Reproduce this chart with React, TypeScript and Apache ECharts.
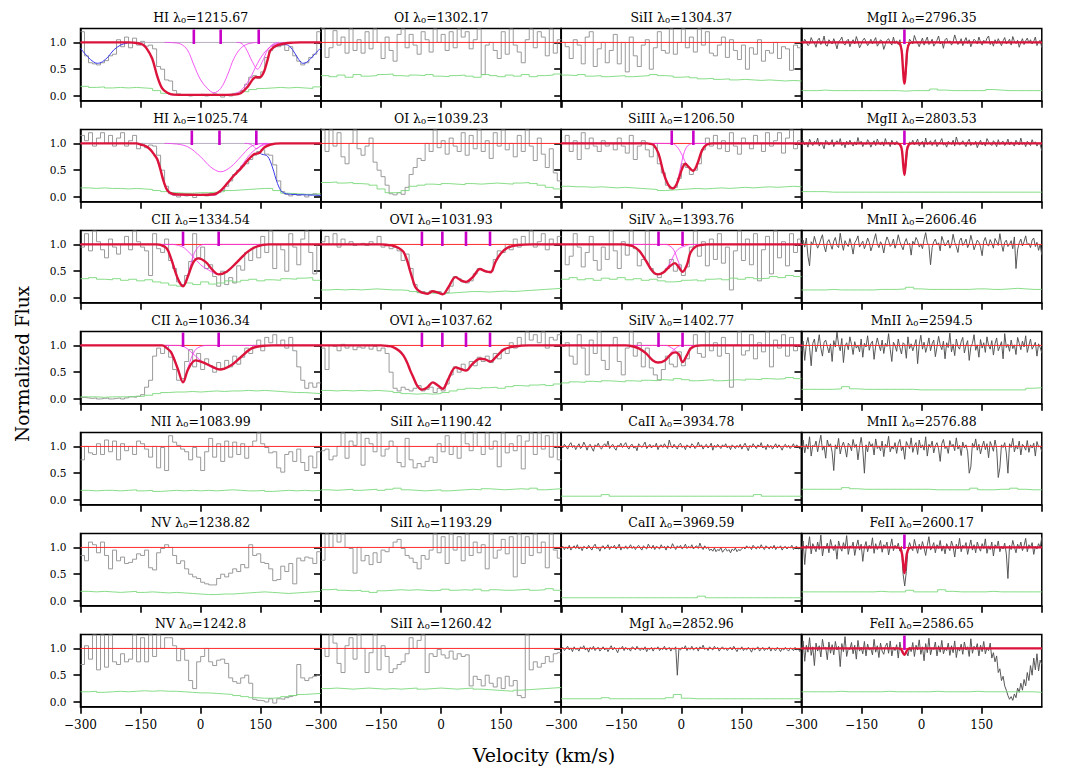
import React, { useEffect, useRef } from 'react';
import * as echarts from 'echarts';

// ---------------- axes ----------------
const VMIN = -300;
const VMAX = 300;
const X_INTERVAL = 150;
const YMIN = -0.09;
const YMAX = 1.26;
const Y_TICKS = [0, 0.5, 1.0];
const CONT = 1.0;
const MARK_LO = 0.97;
const MARK_HI = 1.24;

// ---------------- column 1 ----------------
const HI1215_FLUX = [
  1.2, 0.75, 0.62, 0.6, 0.58, 0.62, 0.66, 0.75, 0.78, 1.05,
  0.92, 1.1, 0.9, 1.08, 0.95, 1.02, 0.93, 0.95, 0.88, 0.55,
  0.5, 0.3, 0.28, 0.1, 0.04, 0.02, 0.03, 0.0, 0.02, 0.01,
  0.03, 0.0, 0.02, 0.04, 0.01, -0.02, 0.02, 0.0, 0.03, 0.05,
  0.1, 0.22, 0.35, 0.38, 0.33, 0.45, 0.72, 0.85, 0.95, 0.92,
  0.95, 0.85, 0.92, 0.75, 0.65, 0.58, 0.62, 0.72, 0.78, 1.2];
const HI1215_ERR = [0.18, 0.16, 0.17, 0.15, 0.16, 0.15, 0.16, 0.15, 0.14, 0.1, 0.05, 0.03, 0.02, 0.02, 0.02, 0.02, 0.03, 0.02, 0.03, 0.05, 0.08, 0.12, 0.14, 0.15, 0.16, 0.15, 0.16, 0.15, 0.14, 0.17];
const HI1215_MODEL = [[-300, 1], [-180, 1], [-160, 0.99], [-145, 0.96], [-135, 0.89], [-121, 0.7], [-108, 0.36], [-96, 0.14], [-83, 0.06], [-67, 0.025], [-40, 0.02], [0, 0.02], [40, 0.02], [83, 0.025], [100, 0.05], [117, 0.17], [129, 0.3], [137, 0.35], [148, 0.35], [158, 0.45], [167, 0.67], [175, 0.86], [192, 0.95], [217, 0.99], [250, 1], [300, 1]];
const HI1215_C1 = [[-90, 1], [-70, 0.995], [-50, 0.97], [-33, 0.86], [-17, 0.58], [0, 0.3], [17, 0.14], [33, 0.06], [50, 0.14], [67, 0.39], [83, 0.7], [100, 0.89], [117, 0.97], [140, 1]];
const HI1215_C2 = [[90, 1], [100, 0.99], [112, 0.9], [129, 0.64], [142, 0.5], [154, 0.64], [167, 0.86], [179, 0.96], [195, 1]];
const HI1215_C3 = [[-180, 1], [-160, 0.99], [-145, 0.96], [-135, 0.89], [-121, 0.7], [-108, 0.36], [-96, 0.14], [-83, 0.05], [-70, 0.02], [60, 0.02], [83, 0.04], [100, 0.1], [121, 0.3], [142, 0.61], [158, 0.8], [175, 0.92], [200, 0.99], [230, 1]];
const HI1215_BLUE_L = [[-300, 0.89], [-290, 0.8], [-275, 0.68], [-258, 0.61], [-245, 0.64], [-230, 0.74], [-217, 0.86], [-200, 0.95], [-183, 0.99], [-165, 1]];
const HI1215_BLUE_R = [[175, 0.86], [192, 0.94], [210, 0.96], [222, 0.93], [235, 0.8], [245, 0.68], [255, 0.61], [265, 0.63], [280, 0.74], [292, 0.84], [300, 0.89]];
const HI1215_MARKS = [-17, 50, 145];

const HI1025_FLUX = [
  1.15, 1.05, 1.2, 0.95, 1.1, 1.2, 1.0, 1.15, 0.95, 1.1,
  1.2, 0.95, 1.05, 1.15, 0.9, 1.0, 0.92, 0.97, 0.95, 0.78,
  0.5, 0.2, 0.06, 0.03, 0.0, 0.05, 0.02, 0.04, -0.01, 0.03,
  0.05, 0.02, 0.06, 0.04, 0.08, 0.12, 0.2, 0.3, 0.42, 0.5,
  0.58, 0.62, 0.7, 0.78, 0.85, 0.88, 0.8, 0.78, 0.6, 0.3,
  0.1, 0.05, 0.02, 0.06, 0.03, 0.05, 0.0, 0.04, 0.06, 0.03];
const HI1025_ERR = [0.17, 0.16, 0.17, 0.16, 0.16, 0.15, 0.16, 0.15, 0.14, 0.12, 0.1, 0.08, 0.07, 0.07, 0.08, 0.08, 0.09, 0.1, 0.12, 0.13, 0.14, 0.15, 0.16, 0.16, 0.12, 0.07, 0.06, 0.05, 0.05, 0.06];
const HI1025_MODEL = [[-300, 1], [-160, 1], [-150, 0.98], [-135, 0.94], [-125, 0.88], [-115, 0.78], [-108, 0.7], [-100, 0.5], [-92, 0.28], [-83, 0.12], [-71, 0.06], [-50, 0.045], [0, 0.04], [33, 0.05], [50, 0.12], [67, 0.26], [83, 0.4], [100, 0.53], [117, 0.68], [133, 0.8], [146, 0.82], [158, 0.92], [175, 0.98], [200, 1], [300, 1]];
const HI1025_C1 = [[-90, 1], [-70, 0.995], [-33, 0.94], [0, 0.75], [25, 0.56], [50, 0.47], [75, 0.56], [100, 0.75], [125, 0.94], [145, 0.99], [165, 1]];
const HI1025_C2 = [[110, 1], [120, 0.995], [130, 0.96], [140, 0.9], [150, 0.96], [160, 0.995], [170, 1]];
const HI1025_C3 = [[-170, 1], [-160, 0.995], [-135, 0.94], [-115, 0.78], [-100, 0.5], [-83, 0.12], [-70, 0.04], [30, 0.03], [50, 0.1], [67, 0.25], [100, 0.56], [125, 0.81], [150, 0.95], [175, 1]];
const HI1025_BLUE_R = [[133, 0.8], [146, 0.82], [152, 0.8], [167, 0.76], [179, 0.56], [192, 0.25], [204, 0.09], [225, 0.05], [260, 0.04], [300, 0.03]];
const HI1025_MARKS = [-22, 47, 139];

const CII1334_FLUX = [
  0.95, 1.2, 0.88, 1.25, 1.05, 0.9, 0.75, 1.1, 0.95, 0.82,
  1.0, 1.15, 0.9, 1.25, 1.05, 0.95, 0.88, 0.42, 1.2, 0.92,
  0.85, 1.1, 0.7, 0.55, 0.3, 0.25, 0.42, 0.68, 1.2, 0.75,
  0.95, 0.55, 0.62, 0.4, 0.22, 0.5, 0.25, 0.38, 0.28, 0.6,
  0.52, 0.85, 0.7, 0.95, 0.75, 1.15, 0.85, 1.25, 0.55, 1.0,
  0.9, 0.5, 1.2, 0.95, 0.62, 1.1, 1.25, 0.85, 0.45, 1.0];
const CII1334_ERR = [0.36, 0.38, 0.35, 0.34, 0.36, 0.33, 0.35, 0.32, 0.34, 0.3, 0.28, 0.24, 0.22, 0.28, 0.25, 0.3, 0.26, 0.28, 0.32, 0.3, 0.33, 0.35, 0.32, 0.34, 0.33, 0.36, 0.35, 0.37, 0.38, 0.33];
const CII1334_MODEL = [[-300, 1], [-110, 1], [-100, 0.99], [-85, 0.93], [-74, 0.74], [-57, 0.36], [-44, 0.22], [-31, 0.42], [-18, 0.67], [-6, 0.74], [13, 0.67], [30, 0.52], [45, 0.44], [65, 0.49], [91, 0.67], [117, 0.86], [143, 0.97], [170, 1], [300, 1]];
const CII1334_C1 = [[-300, 1], [-110, 1], [-100, 0.99], [-85, 0.93], [-74, 0.76], [-57, 0.38], [-44, 0.23], [-31, 0.45], [-18, 0.8], [-5, 0.96], [10, 1], [300, 1]];
const CII1334_C2 = [[-300, 1], [-70, 1], [-55, 0.98], [-40, 0.93], [-20, 0.78], [0, 0.62], [20, 0.52], [45, 0.44], [65, 0.49], [91, 0.67], [117, 0.86], [143, 0.97], [170, 1], [300, 1]];
const CII_MARKS = [-44, 45];

const CII1036_FLUX = [
  0.03, 0.02, 0.01, 0.02, 0.0, 0.01, 0.02, 0.0, 0.01, 0.02,
  0.0, 0.02, 0.04, 0.03, 0.05, 0.08, 0.22, 0.35, 0.8, 0.95,
  0.85, 1.0, 0.78, 0.55, 0.35, 0.38, 0.7, 0.92, 0.6, 0.85,
  0.55, 0.75, 0.62, 0.5, 0.68, 0.55, 0.72, 0.6, 0.8, 0.65,
  0.78, 0.95, 0.85, 1.0, 1.1, 0.9, 1.15, 1.05, 1.2, 1.0,
  1.1, 0.95, 1.15, 0.9, 0.6, 0.35, 0.2, 0.3, 0.22, 0.3];
const CII1036_ERR = [0.04, 0.04, 0.03, 0.04, 0.04, 0.04, 0.05, 0.05, 0.07, 0.1, 0.12, 0.13, 0.13, 0.14, 0.13, 0.14, 0.15, 0.14, 0.15, 0.15, 0.16, 0.15, 0.16, 0.15, 0.14, 0.13, 0.12, 0.12, 0.11, 0.1];
const CII1036_MODEL = [[-300, 1], [-96, 1], [-85, 0.95], [-74, 0.875], [-57, 0.56], [-44, 0.31], [-31, 0.56], [-13, 0.72], [4, 0.69], [30, 0.6], [48, 0.55], [74, 0.62], [100, 0.78], [126, 0.94], [152, 0.99], [180, 1], [300, 1]];
const CII1036_C1 = [[-300, 1], [-96, 1], [-74, 0.88], [-57, 0.58], [-44, 0.32], [-31, 0.6], [-15, 0.9], [0, 0.98], [15, 1], [300, 1]];
const CII1036_C2 = [[-300, 1], [-60, 1], [-40, 0.97], [-20, 0.85], [0, 0.72], [25, 0.6], [48, 0.55], [74, 0.62], [100, 0.78], [126, 0.94], [152, 0.99], [175, 1], [300, 1]];

const NII1083_FLUX = [
  0.75, 1.0, 0.88, 0.85, 1.05, 0.85, 1.12, 0.9, 1.1, 0.75,
  1.05, 0.92, 1.0, 0.85, 1.1, 1.05, 0.95, 0.8, 1.0, 0.6,
  0.98, 0.55, 1.2, 1.08, 1.02, 0.95, 0.9, 0.75, 0.98, 0.8,
  0.55, 0.9, 1.15, 0.8, 1.05, 0.72, 1.1, 0.8, 1.08, 0.85,
  1.05, 0.78, 1.0, 1.1, 1.25, 1.05, 0.98, 0.88, 0.9, 0.6,
  0.52, 0.85, 0.9, 0.72, 0.95, 0.7, 0.55, 0.82, 0.6, 0.9];
const NII1083_ERR = [0.18, 0.17, 0.18, 0.18, 0.17, 0.18, 0.19, 0.17, 0.18, 0.16, 0.17, 0.18, 0.17, 0.18, 0.17, 0.18, 0.17, 0.18, 0.19, 0.18, 0.17, 0.17, 0.18, 0.16, 0.17, 0.18, 0.17, 0.18, 0.17, 0.18];

const NV1238_FLUX = [
  0.85, 0.75, 1.1, 1.05, 0.9, 1.1, 0.85, 0.6, 0.95, 0.75,
  0.82, 0.7, 0.72, 0.78, 0.88, 0.85, 0.95, 0.62, 0.58, 0.9,
  0.98, 1.05, 1.0, 0.85, 0.7, 0.75, 0.6, 0.5, 0.45, 0.42,
  0.35, 0.32, 0.3, 0.3, 0.42, 0.5, 0.45, 0.52, 0.6, 0.55,
  0.68, 0.62, 1.05, 0.85, 0.88, 0.72, 0.7, 0.6, 0.38, 0.4,
  0.65, 0.55, 0.7, 0.32, 0.8, 0.75, 0.82, 0.8, 0.7, 0.92];
const NV1238_ERR = [0.18, 0.17, 0.18, 0.17, 0.16, 0.17, 0.18, 0.16, 0.17, 0.16, 0.15, 0.16, 0.15, 0.14, 0.13, 0.12, 0.12, 0.13, 0.13, 0.14, 0.15, 0.16, 0.17, 0.16, 0.15, 0.14, 0.15, 0.16, 0.17, 0.18];

const NV1242_FLUX = [
  0.7, 1.05, 0.8, 1.25, 0.6, 1.25, 0.65, 1.25, 0.75, 0.7,
  0.9, 0.75, 0.8, 1.25, 0.75, 1.2, 0.75, 1.25, 0.85, 1.25,
  1.0, 1.2, 1.2, 1.05, 0.77, 0.98, 0.78, 0.4, 0.25, 0.75,
  0.85, 1.0, 0.75, 0.68, 0.78, 0.8, 0.72, 0.45, 0.38, 0.35,
  0.45, 0.5, 0.35, 0.05, 0.03, 0.02, 0.0, 0.06, -0.02, 0.06,
  0.05, 0.08, 0.1, 0.12, 0.7, 0.45, 0.4, 0.45, 0.48, 0.5];
const NV1242_ERR = [0.19, 0.2, 0.18, 0.19, 0.2, 0.19, 0.2, 0.21, 0.2, 0.21, 0.2, 0.2, 0.19, 0.18, 0.17, 0.17, 0.16, 0.15, 0.14, 0.12, 0.1, 0.08, 0.07, 0.07, 0.08, 0.1, 0.12, 0.14, 0.15, 0.16];

// ---------------- column 2 ----------------
const OI1302_FLUX = [
  1.25, 0.72, 0.9, 1.22, 0.95, 1.1, 0.8, 1.25, 0.85, 1.05,
  0.8, 1.2, 0.88, 1.25, 1.0, 0.7, 1.1, 0.85, 0.65, 1.15,
  1.25, 0.9, 1.15, 0.95, 0.78, 1.2, 1.05, 0.82, 1.25, 1.0,
  1.15, 0.85, 1.2, 0.9, 1.25, 1.1, 1.2, 0.88, 1.05, 1.25,
  0.4, 0.95, 1.0, 0.85, 0.7, 1.2, 0.78, 1.25, 0.95, 0.82,
  0.62, 1.05, 1.25, 0.9, 1.2, 1.1, 0.75, 1.25, 0.8, 1.05];
const OI1302_ERR = [0.38, 0.36, 0.39, 0.35, 0.4, 0.37, 0.38, 0.4, 0.41, 0.38, 0.37, 0.39, 0.38, 0.4, 0.37, 0.36, 0.38, 0.39, 0.37, 0.35, 0.4, 0.38, 0.36, 0.39, 0.37, 0.4, 0.36, 0.38, 0.39, 0.41];

const OI1039_FLUX = [
  1.25, 0.85, 1.25, 0.95, 1.2, 0.75, 0.62, 1.0, 1.25, 0.9,
  0.78, 0.95, 1.1, 0.65, 0.5, 0.38, 0.22, 0.06, 0.04, 0.08,
  0.05, 0.18, 0.42, 0.55, 0.72, 0.68, 1.0, 0.85, 1.25, 0.92,
  1.05, 0.8, 1.1, 0.95, 0.85, 1.2, 0.78, 1.15, 0.9, 1.25,
  0.85, 1.05, 0.72, 1.2, 0.95, 1.25, 0.88, 1.0, 0.75, 1.15,
  0.85, 1.25, 0.95, 0.68, 1.1, 0.8, 0.55, 0.9, 0.45, 0.3];
const OI1039_ERR = [0.27, 0.28, 0.26, 0.27, 0.25, 0.24, 0.22, 0.15, 0.08, 0.08, 0.12, 0.2, 0.22, 0.24, 0.23, 0.25, 0.24, 0.23, 0.25, 0.24, 0.25, 0.26, 0.25, 0.24, 0.26, 0.27, 0.25, 0.22, 0.18, 0.15];

const OVI1031_FLUX = [
  1.05, 1.15, 1.0, 1.2, 0.95, 1.1, 1.0, 1.05, 0.98, 1.0,
  1.02, 0.98, 1.05, 1.0, 1.15, 0.95, 1.0, 0.92, 0.95, 0.88,
  0.7, 0.82, 0.55, 0.25, 0.1, 0.12, 0.08, 0.13, 0.1, 0.12,
  0.07, 0.1, 0.22, 0.4, 0.36, 0.3, 0.28, 0.32, 0.45, 0.55,
  0.52, 0.48, 0.5, 0.72, 0.88, 0.85, 1.0, 0.9, 1.1, 0.95,
  1.15, 1.0, 1.25, 0.95, 1.05, 1.2, 0.9, 1.1, 1.0, 1.15];
const OVI1031_ERR = [0.15, 0.16, 0.15, 0.16, 0.15, 0.16, 0.17, 0.16, 0.15, 0.15, 0.14, 0.12, 0.1, 0.09, 0.08, 0.09, 0.1, 0.11, 0.12, 0.12, 0.11, 0.12, 0.13, 0.12, 0.13, 0.14, 0.15, 0.16, 0.17, 0.18];
const OVI1031_MODEL = [[-300, 1], [-150, 1], [-135, 0.99], [-120, 0.975], [-105, 0.93], [-94, 0.86], [-85, 0.7], [-77, 0.49], [-70, 0.32], [-64, 0.2], [-55, 0.13], [-48, 0.1], [-34, 0.08], [-21, 0.125], [-8, 0.1], [4, 0.07], [18, 0.2], [36, 0.39], [49, 0.33], [62, 0.3], [79, 0.39], [97, 0.54], [110, 0.5], [123, 0.48], [136, 0.68], [149, 0.83], [166, 0.94], [192, 0.99], [227, 1], [300, 1]];
const OVI_MARKS = [-48, 3, 62, 122];

const OVI1037_FLUX = [
  0.95, 0.55, 1.0, 0.98, 0.9, 1.02, 0.95, 1.0, 0.92, 0.97,
  0.95, 1.0, 0.93, 0.98, 0.9, 0.95, 0.85, 0.5, 0.2, 0.15,
  0.22, 0.18, 0.15, 0.2, 0.25, 0.15, 0.18, 0.22, 0.12, 0.2,
  0.15, 0.28, 0.45, 0.6, 0.5, 0.65, 0.55, 0.7, 0.62, 0.78,
  0.7, 0.8, 0.68, 0.85, 0.75, 0.92, 0.85, 1.05, 0.95, 1.15,
  1.0, 1.25, 1.1, 1.2, 1.05, 1.25, 0.95, 1.15, 1.1, 1.2];
const OVI1037_ERR = [0.16, 0.15, 0.16, 0.15, 0.16, 0.15, 0.16, 0.15, 0.14, 0.12, 0.1, 0.09, 0.1, 0.09, 0.1, 0.12, 0.15, 0.18, 0.2, 0.19, 0.21, 0.22, 0.2, 0.23, 0.25, 0.24, 0.26, 0.27, 0.25, 0.28];
const OVI1037_MODEL = [[-300, 1], [-150, 1], [-135, 0.99], [-120, 0.97], [-105, 0.9], [-94, 0.81], [-85, 0.68], [-77, 0.53], [-68, 0.38], [-60, 0.25], [-48, 0.175], [-34, 0.22], [-21, 0.31], [-8, 0.25], [4, 0.19], [18, 0.375], [36, 0.59], [49, 0.56], [62, 0.53], [79, 0.66], [97, 0.75], [110, 0.74], [123, 0.7], [140, 0.81], [158, 0.93], [184, 0.98], [218, 1], [300, 1]];

const SIII1190_FLUX = [
  0.92, 0.95, 0.75, 0.82, 1.0, 1.25, 0.78, 1.1, 1.02, 1.25,
  0.65, 1.15, 1.05, 0.9, 1.25, 0.82, 0.95, 1.1, 1.0, 0.7,
  0.62, 1.15, 0.75, 0.6, 0.68, 0.62, 0.72, 0.8, 0.7, 1.05,
  0.9, 1.2, 0.85, 1.0, 0.78, 1.25, 1.05, 0.92, 1.25, 1.0,
  0.85, 1.25, 0.95, 1.1, 0.62, 1.25, 0.88, 1.05, 0.92, 1.2,
  0.58, 1.1, 1.25, 0.85, 1.25, 0.95, 1.2, 0.8, 1.25, 0.75];
const SIII1190_ERR = [0.19, 0.18, 0.19, 0.2, 0.18, 0.19, 0.2, 0.18, 0.2, 0.22, 0.19, 0.18, 0.17, 0.18, 0.19, 0.17, 0.18, 0.19, 0.2, 0.19, 0.21, 0.2, 0.19, 0.2, 0.21, 0.2, 0.22, 0.19, 0.2, 0.21];

const SIII1193_FLUX = [
  0.76, 1.25, 1.0, 1.25, 1.1, 1.25, 1.0, 0.98, 0.52, 1.0,
  0.75, 0.85, 0.68, 0.9, 0.72, 0.95, 0.92, 1.0, 1.1, 1.15,
  0.98, 0.85, 0.8, 0.72, 0.6, 0.85, 0.78, 0.95, 1.25, 0.9,
  1.2, 0.7, 1.25, 0.95, 1.2, 0.75, 1.25, 0.85, 1.1, 0.9,
  1.05, 0.6, 1.25, 0.8, 0.95, 1.15, 0.88, 1.2, 0.45, 1.25,
  0.7, 1.2, 0.85, 1.25, 0.9, 1.1, 0.62, 1.25, 0.95, 0.8];
const SIII1193_ERR = [0.21, 0.22, 0.2, 0.19, 0.2, 0.18, 0.16, 0.19, 0.2, 0.21, 0.2, 0.21, 0.2, 0.19, 0.2, 0.22, 0.2, 0.21, 0.2, 0.22, 0.19, 0.21, 0.2, 0.2, 0.21, 0.22, 0.2, 0.21, 0.23, 0.2];

const SIII1260_FLUX = [
  1.0, 0.85, 1.25, 1.1, 0.72, 0.55, 1.05, 1.2, 0.8, 1.25,
  1.0, 0.55, 0.92, 1.25, 0.6, 1.05, 0.85, 0.55, 0.62, 0.7,
  0.75, 0.9, 1.2, 1.0, 1.15, 1.25, 0.55, 0.9, 0.85, 0.98,
  0.88, 0.82, 0.95, 0.8, 0.9, 0.85, 0.88, 0.3, 0.48, 0.42,
  0.3, 0.5, 0.35, 0.28, 0.45, 0.25, 0.48, 0.3, 0.4, 0.12,
  0.08, 1.25, 0.6, 0.75, 0.65, 0.72, 0.85, 0.75, 0.9, 0.92];
const SIII1260_ERR = [0.25, 0.26, 0.25, 0.24, 0.25, 0.26, 0.25, 0.24, 0.25, 0.24, 0.25, 0.26, 0.24, 0.25, 0.26, 0.25, 0.24, 0.25, 0.26, 0.24, 0.23, 0.22, 0.21, 0.2, 0.22, 0.23, 0.24, 0.25, 0.26, 0.27];

// ---------------- column 3 ----------------
const SIII1304_FLUX = [
  1.0, 0.92, 0.7, 1.05, 0.95, 0.6, 1.1, 1.2, 0.55, 0.88,
  1.0, 0.62, 0.85, 1.15, 0.6, 1.0, 0.45, 1.1, 0.75, 0.55,
  0.95, 1.05, 0.5, 0.9, 1.2, 0.85, 0.8, 1.25, 0.78, 1.0,
  1.25, 0.9, 1.1, 0.82, 1.25, 0.95, 1.2, 0.8, 0.75, 0.95,
  1.1, 0.72, 1.05, 0.85, 0.68, 0.95, 0.5, 0.9, 0.78, 1.05,
  0.65, 0.85, 0.8, 1.0, 0.7, 0.92, 0.88, 0.48, 0.95, 0.9];
const SIII1304_ERR = [0.39, 0.38, 0.4, 0.37, 0.38, 0.36, 0.37, 0.38, 0.36, 0.37, 0.38, 0.4, 0.38, 0.37, 0.35, 0.36, 0.34, 0.32, 0.33, 0.31, 0.32, 0.3, 0.31, 0.3, 0.29, 0.3, 0.29, 0.28, 0.29, 0.28];

const SIIII1206_FLUX = [
  1.0, 1.15, 0.85, 1.05, 0.7, 1.2, 0.9, 1.1, 0.95, 0.85,
  1.05, 0.95, 1.0, 0.88, 1.1, 0.95, 0.82, 1.15, 0.7, 0.95,
  1.05, 0.88, 0.75, 1.0, 0.62, 0.45, 0.22, 0.15, 0.18, 0.35,
  0.62, 0.55, 0.42, 0.5, 0.62, 0.88, 1.1, 0.95, 1.15, 0.9,
  1.05, 0.85, 1.2, 0.95, 0.8, 1.1, 1.0, 0.9, 1.15, 1.0,
  0.85, 1.2, 0.95, 1.05, 1.2, 0.82, 1.1, 1.25, 0.9, 1.05];
const SIIII1206_ERR = [0.2, 0.19, 0.19, 0.18, 0.19, 0.18, 0.17, 0.18, 0.17, 0.16, 0.15, 0.14, 0.12, 0.13, 0.14, 0.15, 0.16, 0.15, 0.16, 0.17, 0.16, 0.17, 0.18, 0.17, 0.18, 0.19, 0.18, 0.19, 0.2, 0.19];
const SIIII1206_MODEL = [[-300, 1], [-85, 1], [-77, 0.99], [-69, 0.97], [-57, 0.81], [-44, 0.44], [-32, 0.22], [-21, 0.16], [-11, 0.25], [2, 0.53], [10, 0.62], [18, 0.56], [29, 0.49], [39, 0.6], [52, 0.875], [64, 0.98], [81, 1], [300, 1]];
const SIIII1206_C1 = [[-300, 1], [-85, 1], [-77, 0.99], [-69, 0.97], [-57, 0.81], [-44, 0.44], [-32, 0.22], [-21, 0.16], [-11, 0.27], [-3, 0.52], [5, 0.78], [12, 0.92], [20, 0.98], [30, 1], [300, 1]];
const SIIII1206_C2 = [[-300, 1], [-25, 1], [-11, 0.94], [2, 0.78], [14, 0.6], [29, 0.49], [39, 0.6], [52, 0.875], [64, 0.98], [81, 1], [300, 1]];
const SIIII_MARKS = [-24, 30];

const SIIV1393_FLUX = [
  1.0, 0.62, 0.78, 1.2, 0.95, 0.58, 0.85, 1.15, 0.7, 0.52,
  0.95, 0.72, 1.25, 0.88, 0.55, 1.05, 0.8, 1.25, 0.92, 0.6,
  0.72, 1.25, 0.55, 0.45, 0.38, 0.48, 0.55, 0.72, 0.5, 0.62,
  0.42, 0.58, 0.95, 1.25, 0.78, 1.05, 0.6, 1.1, 0.72, 1.2,
  0.65, 0.95, 0.15, 0.88, 1.25, 0.7, 1.1, 0.62, 1.2, 0.32,
  0.9, 1.15, 0.45, 1.25, 0.75, 1.05, 0.6, 1.2, 0.85, 1.1];
const SIIV1393_ERR = [0.35, 0.38, 0.34, 0.36, 0.33, 0.37, 0.35, 0.38, 0.34, 0.36, 0.33, 0.35, 0.32, 0.3, 0.31, 0.33, 0.34, 0.32, 0.35, 0.36, 0.34, 0.37, 0.35, 0.38, 0.36, 0.37, 0.4, 0.38, 0.42, 0.4];
const SIIV1393_MODEL = [[-300, 1], [-145, 1], [-139, 0.995], [-122, 0.97], [-105, 0.88], [-88, 0.69], [-71, 0.49], [-58, 0.44], [-46, 0.47], [-29, 0.59], [-16, 0.65], [-8, 0.59], [3, 0.49], [14, 0.62], [23, 0.85], [36, 0.96], [49, 0.99], [65, 1], [300, 1]];
const SIIV1393_C1 = [[-300, 1], [-145, 1], [-139, 0.995], [-122, 0.97], [-105, 0.88], [-88, 0.69], [-71, 0.49], [-58, 0.44], [-46, 0.48], [-29, 0.64], [-20, 0.78], [-8, 0.91], [9, 0.97], [25, 1], [300, 1]];
const SIIV1393_C2 = [[-300, 1], [-40, 1], [-33, 0.99], [-20, 0.91], [-8, 0.69], [3, 0.5], [14, 0.62], [23, 0.85], [36, 0.96], [49, 0.99], [65, 1], [300, 1]];
const SIIV_MARKS = [-57, 3];

const SIIV1402_FLUX = [
  0.98, 1.05, 0.8, 0.65, 1.2, 0.95, 0.45, 1.1, 0.85, 1.25,
  0.72, 0.55, 1.0, 1.15, 0.7, 0.45, 0.95, 1.25, 0.8, 1.05,
  0.6, 0.95, 0.58, 0.45, 0.35, 0.55, 0.8, 0.65, 0.6, 0.88,
  0.62, 0.75, 0.95, 1.2, 0.85, 0.78, 1.25, 0.9, 1.05, 0.8,
  1.15, 0.85, 0.22, 1.0, 1.25, 0.82, 0.9, 1.2, 0.75, 1.05,
  0.88, 1.25, 0.6, 1.1, 0.95, 1.2, 0.8, 1.15, 0.9, 1.0];
const SIIV1402_ERR = [0.3, 0.32, 0.31, 0.33, 0.32, 0.34, 0.33, 0.32, 0.34, 0.33, 0.35, 0.34, 0.36, 0.35, 0.38, 0.36, 0.34, 0.35, 0.36, 0.34, 0.35, 0.36, 0.35, 0.37, 0.36, 0.38, 0.37, 0.38, 0.4, 0.38];
const SIIV1402_MODEL = [[-300, 1], [-140, 1], [-120, 0.98], [-105, 0.94], [-88, 0.85], [-71, 0.72], [-58, 0.68], [-41, 0.72], [-24, 0.85], [-14, 0.87], [-6, 0.83], [3, 0.69], [14, 0.82], [23, 0.94], [36, 0.99], [50, 1], [300, 1]];
const SIIV1402_C1 = [[-300, 1], [-140, 1], [-120, 0.98], [-105, 0.94], [-88, 0.85], [-71, 0.72], [-58, 0.68], [-41, 0.72], [-24, 0.88], [-12, 0.96], [0, 1], [300, 1]];
const SIIV1402_C2 = [[-300, 1], [-40, 1], [-33, 0.99], [-16, 0.91], [-6, 0.82], [3, 0.69], [14, 0.82], [23, 0.94], [36, 0.99], [50, 1], [300, 1]];

const CAII3934_FLUX = [
  1.01, 0.97, 1.04, 1.0, 0.95, 1.03, 1.07, 0.98, 1.02, 0.94,
  1.0, 1.05, 0.96, 0.99, 1.08, 1.02, 0.93, 1.01, 1.04, 0.97,
  0.91, 1.03, 1.0, 1.06, 0.98, 0.95, 1.02, 1.05, 0.99, 1.1,
  0.96, 1.01, 1.04, 0.97, 0.93, 1.02, 1.0, 1.06, 0.98, 1.03,
  1.07, 0.99, 0.95, 1.02, 1.04, 0.97, 1.0, 0.92, 1.05, 1.01,
  0.98, 1.03, 1.08, 0.96, 1.0, 1.04, 0.97, 1.02, 0.99, 1.06,
  0.94, 1.01, 1.03, 0.98, 1.05, 1.0, 0.96, 1.12, 1.02, 0.97,
  1.04, 0.99, 0.95, 1.03, 1.06, 0.98, 1.01, 0.94, 1.03, 1.0,
  0.97, 1.05, 1.02, 0.96, 1.0, 1.08, 0.99, 1.03, 0.95, 1.01,
  1.04, 0.97, 1.0, 1.06, 0.93, 1.02, 0.98, 1.04, 1.0, 0.96,
  1.03, 0.99, 1.05, 0.97, 1.01, 0.94, 1.03, 1.0, 0.96, 1.02,
  0.98, 1.04, 0.95, 1.01, 1.06, 0.99, 0.92, 1.02, 0.98, 1.05,
  1.0, 0.96, 1.03, 0.99, 1.07, 0.97, 1.01, 0.94, 1.04, 0.98,
  1.02, 0.95, 1.0, 1.05, 0.97, 1.03, 0.99, 0.93, 1.01, 1.04,
  0.98, 1.02, 0.96, 1.0, 1.05, 0.97, 1.03, 0.99, 0.95, 1.01];
const CAII3934_ERR = [0.07, 0.07, 0.07, 0.07, 0.07, 0.1, 0.07, 0.07, 0.07, 0.07, 0.07, 0.07, 0.07, 0.07, 0.07, 0.07, 0.07, 0.07, 0.07, 0.07, 0.07, 0.07, 0.07, 0.07, 0.1, 0.07, 0.07, 0.07, 0.07, 0.07];

const CAII3969_FLUX = [
  0.98, 1.02, 0.96, 1.01, 0.97, 1.04, 0.95, 1.0, 1.03, 0.98,
  1.05, 0.97, 1.01, 0.94, 1.02, 1.0, 0.97, 1.04, 0.99, 0.95,
  1.02, 1.06, 0.98, 1.0, 0.93, 1.01, 1.03, 0.97, 1.0, 1.05,
  0.96, 1.02, 0.99, 1.04, 0.97, 1.0, 1.06, 0.95, 1.01, 0.98,
  1.03, 0.97, 1.0, 1.05, 0.98, 1.02, 0.96, 1.01, 1.04, 0.99,
  0.95, 1.03, 1.0, 0.97, 1.06, 1.01, 0.98, 1.04, 0.96, 1.02,
  1.0, 0.97, 1.05, 0.99, 1.02, 0.95, 1.03, 1.0, 0.98, 1.07,
  1.01, 0.96, 1.03, 0.99, 1.04, 0.97, 1.0, 1.06, 0.98, 1.02,
  0.99, 1.05, 0.97, 1.01, 1.03, 0.98, 1.08, 1.0, 0.96, 1.03,
  0.98, 1.01, 0.94, 0.97, 0.93, 0.99, 0.92, 0.96, 0.94, 1.0,
  0.91, 0.95, 0.98, 0.93, 0.96, 0.9, 0.97, 0.94, 0.99, 0.92,
  0.96, 0.94, 0.98, 1.0, 0.97, 1.03, 0.99, 1.01, 0.96, 1.04,
  1.0, 0.97, 1.02, 0.98, 1.05, 0.99, 0.96, 1.03, 1.0, 0.97,
  1.02, 0.98, 1.04, 0.96, 1.01, 0.99, 1.03, 0.95, 1.0, 1.02,
  0.97, 1.01, 0.99, 1.04, 0.96, 1.0, 1.02, 0.97, 0.99, 0.96];
const CAII3969_ERR = [0.06, 0.06, 0.06, 0.06, 0.06, 0.06, 0.06, 0.06, 0.06, 0.06, 0.06, 0.06, 0.06, 0.06, 0.06, 0.06, 0.06, 0.09, 0.06, 0.06, 0.06, 0.06, 0.06, 0.06, 0.06, 0.06, 0.06, 0.06, 0.06, 0.06];

const MGI2852_FLUX = [
  0.99, 1.02, 0.96, 1.0, 1.04, 0.97, 1.01, 0.94, 1.03, 0.98,
  1.0, 0.95, 1.03, 0.99, 1.05, 0.97, 1.01, 0.93, 1.02, 0.98,
  1.04, 0.96, 1.0, 1.02, 0.95, 0.99, 1.03, 0.97, 1.01, 0.94,
  1.0, 1.05, 0.97, 1.02, 0.98, 0.92, 1.01, 0.99, 1.04, 0.96,
  1.02, 0.98, 1.0, 0.95, 1.03, 1.01, 0.97, 1.04, 0.99, 0.96,
  1.01, 0.97, 1.03, 0.94, 1.0, 0.98, 1.02, 0.95, 1.01, 0.99,
  1.03, 0.96, 1.0, 0.98, 1.04, 0.97, 0.99, 1.02, 0.95, 1.01,
  0.98, 1.03, 0.5, 1.0, 0.97, 1.02, 0.99, 1.05, 0.96, 1.01,
  0.98, 1.04, 0.97, 1.0, 1.02, 0.95, 1.03, 0.99, 1.06, 0.98,
  1.01, 0.96, 1.03, 1.0, 0.97, 1.04, 0.99, 1.02, 0.95, 1.0,
  1.03, 0.98, 1.01, 0.96, 1.0, 1.02, 0.97, 1.04, 0.99, 0.94,
  1.01, 0.98, 1.03, 0.96, 1.0, 0.97, 1.02, 0.99, 0.93, 1.01,
  0.97, 1.0, 1.03, 0.95, 0.99, 1.02, 0.96, 1.0, 0.98, 1.03,
  0.95, 1.01, 0.98, 0.96, 1.02, 0.99, 0.94, 1.0, 0.97, 1.02,
  0.98, 0.95, 1.01, 0.99, 0.96, 1.02, 0.97, 0.99, 0.94, 1.0];
const MGI2852_ERR = [0.06, 0.06, 0.06, 0.06, 0.06, 0.08, 0.06, 0.06, 0.06, 0.06, 0.06, 0.06, 0.06, 0.08, 0.14, 0.07, 0.06, 0.06, 0.06, 0.06, 0.06, 0.06, 0.06, 0.06, 0.06, 0.06, 0.06, 0.06, 0.06, 0.06];

// ---------------- column 4 ----------------
const MGII2796_FLUX = [
  1.03, 0.98, 1.06, 1.01, 0.94, 0.97, 1.09, 1.02, 0.99, 0.91,
  1.04, 1.08, 0.96, 1.0, 1.12, 0.95, 0.93, 1.05, 1.01, 0.97,
  1.07, 0.99, 0.88, 1.02, 1.04, 1.1, 0.98, 0.95, 1.03, 1.06,
  0.92, 1.0, 1.05, 0.97, 1.11, 1.02, 0.9, 0.96, 1.04, 1.08,
  1.01, 0.94, 0.99, 1.06, 0.97, 1.03, 1.09, 0.93, 0.98, 1.05,
  1.02, 0.87, 0.96, 1.04, 1.07, 1.0, 0.95, 1.1, 0.98, 1.03,
  0.96, 1.05, 0.9, 0.45, 0.24, 0.5, 0.93, 1.06, 1.02, 0.97,
  1.13, 1.04, 0.99, 0.92, 1.01, 1.08, 0.95, 1.03, 1.1, 0.96,
  1.0, 1.06, 0.93, 0.98, 1.04, 1.12, 0.97, 1.02, 0.89, 1.05,
  1.08, 0.99, 1.03, 0.95, 1.01, 1.14, 1.04, 0.96, 1.0, 1.07,
  0.94, 1.02, 1.09, 0.98, 1.05, 0.92, 1.0, 1.06, 1.03, 0.97,
  1.1, 1.01, 0.95, 1.04, 0.99, 1.08, 1.12, 0.96, 1.02, 0.93,
  1.05, 0.98, 1.07, 1.0, 0.94, 1.03, 1.09, 0.97, 1.01, 1.06,
  0.95, 1.11, 1.02, 0.98, 1.04, 0.91, 1.0, 1.07, 0.96, 1.03,
  1.08, 0.99, 1.05, 0.97, 1.02, 1.1, 0.94, 1.01, 1.04, 0.9];
const MGII2796_ERR = [0.1, 0.1, 0.11, 0.1, 0.1, 0.1, 0.1, 0.1, 0.1, 0.1, 0.1, 0.1, 0.09, 0.1, 0.1, 0.1, 0.13, 0.11, 0.1, 0.1, 0.1, 0.1, 0.1, 0.12, 0.11, 0.1, 0.1, 0.1, 0.1, 0.1];
const MGII2796_MODEL = [[-300, 1], [-62, 1], [-55, 0.98], [-50, 0.85], [-47, 0.55], [-45, 0.33], [-43, 0.23], [-41, 0.33], [-39, 0.55], [-36, 0.85], [-31, 0.98], [-24, 1], [300, 1]];
const LOW_ION_MARKS = [-43];

const MGII2803_FLUX = [
  1.0, 1.05, 0.97, 1.02, 0.93, 1.08, 1.01, 0.96, 1.04, 0.99,
  1.1, 0.95, 1.02, 0.98, 0.9, 1.06, 1.03, 0.97, 1.0, 1.07,
  0.94, 1.01, 1.05, 0.99, 1.09, 0.96, 1.02, 0.92, 1.04, 0.98,
  1.06, 1.0, 0.95, 1.03, 0.97, 1.11, 0.99, 1.04, 0.94, 1.01,
  0.98, 1.07, 1.02, 0.93, 1.0, 1.05, 0.96, 1.08, 1.01, 0.97,
  1.03, 0.95, 1.09, 0.99, 1.02, 0.94, 1.06, 1.0, 0.97, 1.04,
  1.01, 0.96, 0.92, 0.62, 0.42, 0.66, 0.95, 1.03, 0.99, 1.06,
  0.97, 1.02, 1.08, 0.95, 1.0, 1.04, 0.93, 1.1, 0.98, 1.01,
  1.05, 0.96, 1.02, 1.07, 0.94, 0.99, 1.03, 1.09, 0.97, 1.0,
  0.93, 1.04, 1.01, 0.98, 1.06, 0.95, 1.12, 1.02, 0.97, 1.0,
  1.05, 0.99, 0.94, 1.03, 1.08, 0.96, 1.01, 0.98, 1.04, 0.92,
  1.0, 1.06, 0.97, 1.02, 0.95, 1.09, 1.03, 0.99, 0.96, 1.05,
  1.01, 0.94, 1.07, 0.98, 1.02, 1.04, 0.96, 1.0, 1.08, 0.97,
  1.03, 0.99, 0.95, 1.06, 1.01, 0.97, 1.1, 0.98, 1.02, 0.94,
  1.04, 1.0, 0.96, 1.07, 0.99, 1.03, 0.95, 1.01, 0.98, 0.86];
const MGII2803_ERR = [0.1, 0.1, 0.1, 0.09, 0.09, 0.09, 0.09, 0.09, 0.09, 0.09, 0.09, 0.09, 0.09, 0.09, 0.09, 0.09, 0.09, 0.09, 0.09, 0.09, 0.09, 0.09, 0.09, 0.09, 0.09, 0.09, 0.09, 0.09, 0.09, 0.09];
const MGII2803_MODEL = [[-300, 1], [-62, 1], [-54, 0.98], [-49, 0.86], [-46, 0.6], [-43, 0.41], [-40, 0.6], [-37, 0.86], [-32, 0.98], [-24, 1], [300, 1]];

const MNII2606_FLUX = [
  1.02, 1.08, 0.95, 1.12, 0.78, 0.6, 1.05, 0.99, 1.15, 1.03,
  0.93, 1.0, 1.1, 1.18, 0.97, 0.86, 1.04, 1.09, 1.0, 0.91,
  1.06, 1.13, 0.98, 0.94, 1.21, 1.02, 0.89, 1.07, 1.0, 0.96,
  1.11, 0.99, 0.82, 1.03, 1.08, 1.16, 0.95, 1.01, 1.06, 0.92,
  1.0, 1.12, 1.04, 0.88, 0.97, 1.09, 1.2, 1.01, 0.94, 1.05,
  0.99, 0.84, 1.03, 1.14, 1.07, 0.96, 1.0, 1.1, 0.93, 1.02,
  1.18, 1.05, 0.97, 0.9, 1.04, 1.11, 0.99, 1.02, 0.8, 1.06,
  1.0, 1.13, 1.07, 0.95, 1.01, 0.92, 1.09, 1.22, 1.03, 0.98,
  0.62, 0.94, 1.05, 1.1, 0.99, 1.03, 0.88, 1.15, 1.06, 0.97,
  1.02, 1.08, 0.93, 1.0, 1.19, 1.04, 0.96, 0.85, 1.07, 1.12,
  0.98, 1.03, 1.1, 0.94, 1.01, 1.17, 1.05, 0.9, 0.99, 1.08,
  1.04, 0.95, 0.79, 1.06, 1.13, 1.0, 0.97, 1.09, 1.02, 0.93,
  1.11, 1.05, 0.98, 1.2, 1.01, 0.87, 1.04, 1.08, 0.96, 1.0,
  1.07, 0.92, 1.14, 0.55, 0.9, 1.03, 1.1, 0.97, 1.05, 1.16,
  0.99, 1.02, 0.94, 1.08, 1.12, 0.96, 1.04, 0.89, 1.0, 0.8];
const MNII2606_ERR = [0.15, 0.15, 0.15, 0.16, 0.15, 0.15, 0.15, 0.15, 0.15, 0.16, 0.16, 0.16, 0.17, 0.2, 0.17, 0.16, 0.16, 0.16, 0.16, 0.16, 0.16, 0.17, 0.17, 0.16, 0.16, 0.17, 0.18, 0.17, 0.16, 0.16];

const MNII2594_FLUX = [
  0.9, 1.08, 0.72, 1.02, 1.15, 0.96, 0.62, 1.04, 1.12, 0.88,
  1.0, 1.2, 0.95, 0.8, 1.06, 1.1, 0.98, 0.86, 1.03, 0.7,
  1.09, 0.97, 1.25, 1.01, 0.9, 1.13, 0.68, 0.99, 1.05, 0.92,
  1.16, 1.02, 0.83, 1.07, 0.95, 1.0, 0.88, 1.12, 0.78, 1.04,
  0.97, 1.18, 0.91, 1.03, 1.08, 0.74, 0.99, 1.14, 1.01, 0.9,
  1.1, 0.85, 1.04, 0.98, 1.22, 0.93, 0.7, 1.06, 1.0, 0.89,
  1.12, 0.96, 0.84, 1.05, 1.02, 0.76, 1.16, 0.94, 1.03, 0.9,
  1.0, 1.11, 0.66, 1.02, 1.19, 0.93, 1.06, 0.87, 0.99, 1.14,
  0.9, 1.03, 1.1, 0.79, 0.97, 1.17, 1.01, 0.92, 1.08, 0.75,
  1.05, 0.96, 1.23, 0.88, 1.02, 0.81, 1.12, 0.98, 0.93, 1.07,
  1.15, 0.86, 1.0, 1.09, 0.72, 0.97, 1.04, 1.2, 0.91, 1.01,
  0.78, 1.11, 0.95, 1.05, 0.87, 1.16, 1.0, 0.93, 1.09, 0.82,
  1.03, 1.14, 0.9, 0.98, 1.07, 0.75, 1.22, 0.96, 1.02, 0.89,
  1.1, 0.94, 1.01, 0.83, 1.15, 1.04, 0.92, 1.08, 0.97, 1.18,
  0.87, 1.0, 1.12, 0.93, 0.99, 1.06, 0.8, 1.03, 0.96, 0.86];
const MNII2594_ERR = [0.18, 0.18, 0.18, 0.18, 0.19, 0.23, 0.19, 0.18, 0.18, 0.18, 0.18, 0.18, 0.18, 0.18, 0.17, 0.17, 0.17, 0.17, 0.17, 0.17, 0.17, 0.17, 0.17, 0.17, 0.17, 0.17, 0.17, 0.17, 0.2, 0.21];

const MNII2576_FLUX = [
  0.97, 1.12, 0.88, 1.04, 0.95, 1.18, 0.82, 1.02, 0.99, 1.1,
  0.9, 1.06, 1.21, 0.93, 1.01, 0.78, 1.12, 1.0, 1.05, 0.89,
  0.55, 1.03, 0.95, 1.15, 0.86, 1.0, 1.08, 0.97, 0.8, 1.06,
  1.02, 0.92, 1.13, 0.98, 1.04, 0.75, 1.0, 1.17, 0.94, 0.5,
  1.03, 0.9, 1.09, 1.0, 1.05, 0.84, 1.14, 0.96, 1.01, 0.92,
  1.1, 0.81, 1.04, 0.98, 1.19, 0.9, 1.0, 0.95, 1.07, 0.87,
  1.05, 1.13, 0.92, 1.0, 0.76, 1.09, 1.02, 0.96, 1.16, 0.89,
  1.01, 1.07, 0.85, 1.12, 0.97, 1.03, 0.93, 1.18, 0.82, 1.04,
  0.98, 1.1, 0.88, 1.01, 1.07, 0.95, 0.72, 1.05, 1.13, 0.96,
  1.0, 0.87, 1.11, 0.99, 1.04, 0.92, 1.16, 0.95, 1.02, 0.83,
  1.08, 0.97, 1.03, 0.9, 0.5, 0.62, 1.06, 0.98, 1.14, 0.93,
  1.04, 0.86, 1.0, 1.1, 0.94, 1.05, 0.79, 1.09, 1.01, 0.91,
  1.12, 0.96, 0.42, 0.6, 1.03, 0.98, 1.07, 0.88, 0.5, 1.05,
  0.98, 1.15, 0.9, 1.02, 0.95, 1.1, 0.84, 1.04, 1.0, 0.93,
  1.11, 0.89, 1.03, 0.97, 1.06, 0.82, 1.09, 0.99, 1.01, 0.9];
const MNII2576_ERR = [0.2, 0.2, 0.2, 0.2, 0.2, 0.23, 0.21, 0.2, 0.2, 0.2, 0.2, 0.2, 0.2, 0.2, 0.2, 0.2, 0.19, 0.19, 0.19, 0.19, 0.19, 0.22, 0.19, 0.19, 0.2, 0.2, 0.22, 0.2, 0.19, 0.19];

const FEII2600_FLUX = [
  0.95, 1.12, 0.68, 1.04, 0.99, 1.2, 0.88, 1.07, 1.0, 0.92,
  1.1, 0.96, 1.23, 0.84, 1.02, 0.98, 1.08, 0.9, 1.15, 1.01,
  0.94, 1.05, 0.78, 1.12, 1.0, 0.93, 1.09, 0.97, 1.22, 0.87,
  1.03, 0.99, 1.1, 0.85, 1.02, 1.14, 0.95, 1.06, 0.74, 1.0,
  1.11, 0.92, 1.04, 0.98, 1.18, 0.89, 1.07, 0.96, 1.02, 1.13,
  0.91, 1.05, 1.0, 1.1, 0.86, 1.01, 1.16, 0.94, 1.04, 0.98,
  1.08, 0.93, 1.02, 0.5, 0.28, 0.55, 0.97, 1.09, 1.0, 0.94,
  1.15, 1.02, 0.89, 1.06, 0.96, 1.11, 0.99, 0.85, 1.04, 1.2,
  0.95, 1.0, 1.09, 0.9, 1.05, 0.98, 1.13, 0.93, 1.03, 0.88,
  1.07, 1.0, 0.94, 1.12, 1.02, 0.82, 1.06, 0.97, 1.17, 0.92,
  1.04, 0.99, 1.09, 0.87, 1.01, 1.14, 0.95, 1.05, 0.9, 1.1,
  1.0, 0.93, 1.07, 0.98, 1.16, 0.89, 1.03, 0.96, 1.1, 0.84,
  1.05, 0.99, 1.12, 0.92, 1.02, 0.97, 1.08, 0.88, 0.42, 1.04,
  0.96, 1.13, 1.01, 0.9, 1.06, 0.98, 1.1, 0.94, 1.03, 1.17,
  0.92, 1.05, 0.99, 1.09, 0.87, 1.02, 0.97, 1.07, 1.0, 1.19];
const FEII2600_ERR = [0.17, 0.17, 0.17, 0.17, 0.17, 0.17, 0.17, 0.17, 0.17, 0.18, 0.17, 0.17, 0.17, 0.2, 0.17, 0.17, 0.17, 0.21, 0.18, 0.17, 0.17, 0.17, 0.17, 0.18, 0.17, 0.17, 0.17, 0.17, 0.17, 0.17];
const FEII2600_MODEL = [[-300, 1], [-62, 1], [-54, 0.98], [-49, 0.88], [-46, 0.68], [-43, 0.52], [-40, 0.68], [-37, 0.88], [-32, 0.98], [-24, 1], [300, 1]];

const FEII2586_FLUX = [
  0.98, 1.14, 0.76, 1.06, 0.93, 1.2, 0.87, 1.03, 0.68, 1.1,
  0.95, 1.05, 0.84, 1.17, 0.99, 1.02, 0.79, 1.12, 0.91, 1.07,
  0.88, 1.13, 0.97, 1.04, 0.66, 1.09, 0.94, 1.22, 0.85, 1.0,
  0.98, 1.11, 0.9, 1.06, 0.8, 1.15, 0.95, 1.02, 0.9, 1.13,
  0.86, 1.08, 0.97, 1.0, 0.88, 1.17, 0.93, 1.05, 0.83, 1.1,
  0.95, 0.89, 1.04, 1.1, 0.91, 1.14, 0.86, 1.02, 0.96, 1.07,
  0.82, 1.12, 0.94, 0.9, 0.88, 0.95, 0.86, 1.02, 0.94, 1.11,
  0.85, 1.06, 0.97, 1.16, 0.89, 1.03, 0.77, 1.09, 0.92, 1.19,
  0.88, 1.01, 0.98, 1.12, 0.86, 1.05, 0.93, 1.15, 0.9, 1.0,
  0.96, 1.1, 0.87, 1.05, 0.92, 1.14, 0.83, 1.02, 0.95, 1.08,
  0.89, 1.12, 0.97, 1.03, 0.85, 1.18, 0.91, 1.04, 0.98, 1.09,
  0.86, 1.06, 0.94, 1.13, 0.9, 1.01, 0.96, 1.1, 0.82, 0.92,
  0.75, 0.86, 0.55, 0.62, 0.4, 0.48, 0.3, 0.22, 0.12, 0.05,
  0.1, 0.03, 0.15, 0.08, 0.26, 0.18, 0.35, 0.22, 0.42, 0.3,
  0.55, 0.4, 0.68, 0.5, 0.82, 0.6, 0.9, 0.58, 0.78, 0.7];
const FEII2586_ERR = [0.19, 0.19, 0.19, 0.19, 0.2, 0.19, 0.19, 0.19, 0.19, 0.19, 0.2, 0.19, 0.19, 0.19, 0.19, 0.19, 0.2, 0.19, 0.19, 0.19, 0.19, 0.2, 0.19, 0.19, 0.19, 0.19, 0.19, 0.19, 0.19, 0.18];
const FEII2586_MODEL = [[-300, 1], [-58, 1], [-51, 0.98], [-46, 0.91], [-43, 0.88], [-40, 0.91], [-35, 0.98], [-28, 1], [300, 1]];

// ---------------- panel list ----------------
type Panel = {
  c: number; r: number; ion: string; wave: string;
  flux: number[]; err: number[]; hires?: boolean;
  model?: number[][]; comps?: number[][][]; marks?: number[];
  blue?: number[][][]; contColor?: string;
};

const PANELS: Panel[] = [
  { c: 0, r: 0, ion: 'HI', wave: '1215.67', flux: HI1215_FLUX, err: HI1215_ERR, model: HI1215_MODEL, comps: [HI1215_C1, HI1215_C2, HI1215_C3], marks: HI1215_MARKS, blue: [HI1215_BLUE_L, HI1215_BLUE_R], contColor: '#b9aec2' },
  { c: 0, r: 1, ion: 'HI', wave: '1025.74', flux: HI1025_FLUX, err: HI1025_ERR, model: HI1025_MODEL, comps: [HI1025_C1, HI1025_C2, HI1025_C3], marks: HI1025_MARKS, blue: [HI1025_BLUE_R], contColor: '#b9aec2' },
  { c: 0, r: 2, ion: 'CII', wave: '1334.54', flux: CII1334_FLUX, err: CII1334_ERR, model: CII1334_MODEL, comps: [CII1334_C1, CII1334_C2], marks: CII_MARKS },
  { c: 0, r: 3, ion: 'CII', wave: '1036.34', flux: CII1036_FLUX, err: CII1036_ERR, model: CII1036_MODEL, comps: [CII1036_C1, CII1036_C2], marks: CII_MARKS },
  { c: 0, r: 4, ion: 'NII', wave: '1083.99', flux: NII1083_FLUX, err: NII1083_ERR },
  { c: 0, r: 5, ion: 'NV', wave: '1238.82', flux: NV1238_FLUX, err: NV1238_ERR },
  { c: 0, r: 6, ion: 'NV', wave: '1242.8', flux: NV1242_FLUX, err: NV1242_ERR },

  { c: 1, r: 0, ion: 'OI', wave: '1302.17', flux: OI1302_FLUX, err: OI1302_ERR },
  { c: 1, r: 1, ion: 'OI', wave: '1039.23', flux: OI1039_FLUX, err: OI1039_ERR },
  { c: 1, r: 2, ion: 'OVI', wave: '1031.93', flux: OVI1031_FLUX, err: OVI1031_ERR, model: OVI1031_MODEL, marks: OVI_MARKS },
  { c: 1, r: 3, ion: 'OVI', wave: '1037.62', flux: OVI1037_FLUX, err: OVI1037_ERR, model: OVI1037_MODEL, marks: OVI_MARKS },
  { c: 1, r: 4, ion: 'SiII', wave: '1190.42', flux: SIII1190_FLUX, err: SIII1190_ERR },
  { c: 1, r: 5, ion: 'SiII', wave: '1193.29', flux: SIII1193_FLUX, err: SIII1193_ERR },
  { c: 1, r: 6, ion: 'SiII', wave: '1260.42', flux: SIII1260_FLUX, err: SIII1260_ERR },

  { c: 2, r: 0, ion: 'SiII', wave: '1304.37', flux: SIII1304_FLUX, err: SIII1304_ERR },
  { c: 2, r: 1, ion: 'SiIII', wave: '1206.50', flux: SIIII1206_FLUX, err: SIIII1206_ERR, model: SIIII1206_MODEL, comps: [SIIII1206_C1, SIIII1206_C2], marks: SIIII_MARKS },
  { c: 2, r: 2, ion: 'SiIV', wave: '1393.76', flux: SIIV1393_FLUX, err: SIIV1393_ERR, model: SIIV1393_MODEL, comps: [SIIV1393_C1, SIIV1393_C2], marks: SIIV_MARKS },
  { c: 2, r: 3, ion: 'SiIV', wave: '1402.77', flux: SIIV1402_FLUX, err: SIIV1402_ERR, model: SIIV1402_MODEL, comps: [SIIV1402_C1, SIIV1402_C2], marks: SIIV_MARKS },
  { c: 2, r: 4, ion: 'CaII', wave: '3934.78', flux: CAII3934_FLUX, err: CAII3934_ERR, hires: true },
  { c: 2, r: 5, ion: 'CaII', wave: '3969.59', flux: CAII3969_FLUX, err: CAII3969_ERR, hires: true },
  { c: 2, r: 6, ion: 'MgI', wave: '2852.96', flux: MGI2852_FLUX, err: MGI2852_ERR, hires: true },

  { c: 3, r: 0, ion: 'MgII', wave: '2796.35', flux: MGII2796_FLUX, err: MGII2796_ERR, hires: true, model: MGII2796_MODEL, marks: LOW_ION_MARKS },
  { c: 3, r: 1, ion: 'MgII', wave: '2803.53', flux: MGII2803_FLUX, err: MGII2803_ERR, hires: true, model: MGII2803_MODEL, marks: LOW_ION_MARKS },
  { c: 3, r: 2, ion: 'MnII', wave: '2606.46', flux: MNII2606_FLUX, err: MNII2606_ERR, hires: true },
  { c: 3, r: 3, ion: 'MnII', wave: '2594.5', flux: MNII2594_FLUX, err: MNII2594_ERR, hires: true },
  { c: 3, r: 4, ion: 'MnII', wave: '2576.88', flux: MNII2576_FLUX, err: MNII2576_ERR, hires: true },
  { c: 3, r: 5, ion: 'FeII', wave: '2600.17', flux: FEII2600_FLUX, err: FEII2600_ERR, hires: true, model: FEII2600_MODEL, marks: LOW_ION_MARKS },
  { c: 3, r: 6, ion: 'FeII', wave: '2586.65', flux: FEII2586_FLUX, err: FEII2586_ERR, hires: true, model: FEII2586_MODEL, marks: LOW_ION_MARKS },
];

// ---------------- layout / style ----------------
const FONT = '"DejaVu Serif", serif';
const COL_LEFT = [80.5, 321, 561.2, 801.5];
const PANEL_W = 240.3;
const ROW_TOP = 28.5;
const ROW_STEP = 101;
const PANEL_H = 72.3;

function stepData(vals: number[]) {
  const dv = (VMAX - VMIN) / vals.length;
  const d = vals.map((f, i) => [VMIN + dv * i, f]);
  d.push([VMAX, vals[vals.length - 1]]);
  return d;
}

function pointData(vals: number[]) {
  const dv = (VMAX - VMIN) / (vals.length - 1);
  return vals.map((f, i) => [VMIN + dv * i, f]);
}

function fmtX(v: number) {
  if (v === VMAX) return '';
  return v < 0 ? '\u2212' + String(-v) : String(v);
}

function buildOption() {
  const grid: any[] = [];
  const xAxis: any[] = [];
  const yAxis: any[] = [];
  const series: any[] = [];
  const graphic: any[] = [];
  const tickStyle = { color: '#000', width: 1.6 };

  PANELS.forEach((p, idx) => {
    const left = COL_LEFT[p.c];
    const top = ROW_TOP + p.r * ROW_STEP;
    grid.push({ left, top, width: PANEL_W, height: PANEL_H, show: true, borderColor: '#000', borderWidth: 1.5, backgroundColor: 'rgba(0,0,0,0)' });
    xAxis.push({
      type: 'value', gridIndex: idx, min: VMIN, max: VMAX, interval: X_INTERVAL,
      axisLine: { show: true, onZero: false, lineStyle: { color: '#000', width: 1.5 } },
      axisTick: { show: true, inside: false, length: 7, lineStyle: tickStyle },
      splitLine: { show: false },
      axisLabel: { show: p.r === 6, margin: 12, color: '#000', fontFamily: FONT, fontSize: 12, formatter: fmtX, showMaxLabel: false },
    });
    yAxis.push({
      type: 'value', gridIndex: idx, min: YMIN, max: YMAX,
      axisLine: { show: true, onZero: false, lineStyle: { color: '#000', width: 1.5 } },
      axisTick: { show: true, inside: false, length: 7, lineStyle: tickStyle, customValues: Y_TICKS },
      splitLine: { show: false },
      axisLabel: { show: p.c === 0, customValues: Y_TICKS, margin: 14, color: '#000', fontFamily: FONT, fontSize: 10.5, formatter: (v: number) => v.toFixed(1) },
    });

    const base = { type: 'line', xAxisIndex: idx, yAxisIndex: idx, showSymbol: false, symbol: 'none', silent: true, animation: false };
    if (p.hires) {
      series.push({ ...base, data: pointData(p.flux), lineStyle: { color: '#505050', width: 0.95, join: 'miter' }, z: 2 });
    } else {
      series.push({ ...base, step: 'end', data: stepData(p.flux), lineStyle: { color: '#8f8f8f', width: 0.9 }, z: 2 });
    }
    series.push({ ...base, step: 'end', data: stepData(p.err), lineStyle: { color: '#7bd97b', width: 0.9 }, z: 3 });
    series.push({ ...base, data: [[VMIN, CONT], [VMAX, CONT]], lineStyle: { color: p.contColor || '#ff2a2a', width: 1 }, z: 4 });
    (p.comps || []).forEach((cp) => {
      series.push({ ...base, data: cp, smooth: 0.35, lineStyle: { color: '#f23cf2', width: 0.85 }, z: 5 });
    });
    (p.blue || []).forEach((b) => {
      series.push({ ...base, data: b, smooth: 0.35, lineStyle: { color: '#3a3aee', width: 1 }, z: 6 });
    });
    if (p.model) {
      series.push({ ...base, data: p.model, smooth: 0.35, lineStyle: { color: '#dc143c', width: 2.4 }, z: 7 });
    }
    (p.marks || []).forEach((m) => {
      series.push({ ...base, data: [[m, MARK_LO], [m, MARK_HI]], lineStyle: { color: '#c800c8', width: 2.6, cap: 'butt' }, z: 8 });
    });

    graphic.push({
      type: 'text', x: left + PANEL_W / 2, y: top - 4, silent: true,
      style: {
        text: `${p.ion} \u03bb{s|o}=${p.wave}`,
        fill: '#000', fontFamily: FONT, fontSize: 12.5, lineHeight: 14,
        align: 'center', verticalAlign: 'bottom',
        rich: { s: { fontFamily: FONT, fontSize: 8.5, lineHeight: 7, verticalAlign: 'bottom', fill: '#000' } },
      },
    });
  });

  graphic.push({ type: 'text', x: 544, y: 755, silent: true, style: { text: 'Velocity (km/s)', fill: '#000', fontFamily: FONT, fontSize: 19, align: 'center', verticalAlign: 'middle' } });
  graphic.push({ type: 'text', x: 22, y: 364, rotation: Math.PI / 2, silent: true, style: { text: 'Normalized Flux', fill: '#000', fontFamily: FONT, fontSize: 18.5, align: 'center', verticalAlign: 'middle' } });

  return { animation: false, backgroundColor: '#fff', grid, xAxis, yAxis, series, graphic };
}

export default function App() {
  const ref = useRef<HTMLDivElement>(null);
  useEffect(() => {
    if (!ref.current) return;
    const chart = echarts.init(ref.current, null, { renderer: 'svg' });
    chart.setOption(buildOption() as any);
    return () => chart.dispose();
  }, []);
  return <div ref={ref} style={{ position: 'absolute', left: 0, top: 0, width: 1065, height: 782, background: '#fff' }} />;
}
